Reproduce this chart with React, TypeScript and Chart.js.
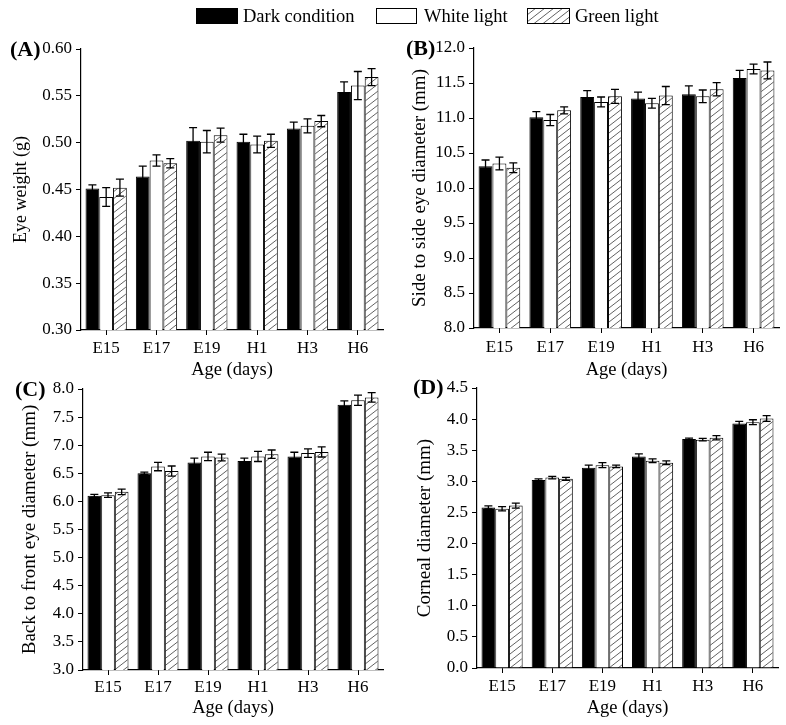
import React, { useEffect, useRef } from "react";
import { Chart, registerables } from "chart.js";

Chart.register(...registerables);

const FONT = '"Liberation Serif", "Times New Roman", Times, serif';

// ---------- data ----------
const ageLabels = ["E15", "E17", "E19", "H1", "H3", "H6"];
const seriesNames = ["Dark condition", "White light", "Green light"];

// (A) Eye weight (g)
const eyeWeightDark = [0.451, 0.464, 0.502, 0.501, 0.515, 0.554];
const eyeWeightWhite = [0.442, 0.481, 0.501, 0.498, 0.518, 0.561];
const eyeWeightGreen = [0.452, 0.478, 0.508, 0.502, 0.523, 0.570];
const eyeWeightDarkErr = [0.004, 0.011, 0.014, 0.008, 0.007, 0.011];
const eyeWeightWhiteErr = [0.010, 0.006, 0.012, 0.009, 0.0075, 0.015];
const eyeWeightGreenErr = [0.009, 0.005, 0.0075, 0.007, 0.006, 0.009];

// (B) Side to side eye diameter (mm)
const sideDark = [10.31, 11.01, 11.30, 11.28, 11.34, 11.57];
const sideWhite = [10.35, 10.97, 11.23, 11.21, 11.31, 11.70];
const sideGreen = [10.29, 11.11, 11.31, 11.32, 11.41, 11.68];
const sideDarkErr = [0.09, 0.08, 0.09, 0.09, 0.12, 0.11];
const sideWhiteErr = [0.09, 0.08, 0.07, 0.07, 0.09, 0.07];
const sideGreenErr = [0.07, 0.05, 0.10, 0.13, 0.095, 0.12];

// (C) Back to front eye diameter (mm)
const backDark = [6.10, 6.50, 6.69, 6.72, 6.80, 7.72];
const backWhite = [6.11, 6.62, 6.80, 6.80, 6.86, 7.80];
const backGreen = [6.17, 6.54, 6.78, 6.84, 6.88, 7.85];
const backDarkErr = [0.025, 0.02, 0.08, 0.05, 0.075, 0.07];
const backWhiteErr = [0.04, 0.075, 0.075, 0.09, 0.075, 0.09];
const backGreenErr = [0.05, 0.09, 0.06, 0.075, 0.09, 0.085];

// (D) Corneal diameter (mm)
const cornealDark = [2.58, 3.02, 3.22, 3.40, 3.68, 3.93];
const cornealWhite = [2.56, 3.06, 3.26, 3.33, 3.67, 3.95];
const cornealGreen = [2.61, 3.04, 3.24, 3.30, 3.70, 4.01];
const cornealDarkErr = [0.025, 0.02, 0.04, 0.04, 0.015, 0.035];
const cornealWhiteErr = [0.035, 0.02, 0.04, 0.03, 0.02, 0.04];
const cornealGreenErr = [0.04, 0.025, 0.02, 0.03, 0.035, 0.045];

// axis settings
const axisA = { min: 0.3, max: 0.6, step: 0.05, decimals: 2, title: "Eye weight (g)" };
const axisB = { min: 8.0, max: 12.0, step: 0.5, decimals: 1, title: "Side to side eye diameter (mm)" };
const axisC = { min: 3.0, max: 8.0, step: 0.5, decimals: 1, title: "Back to front eye diameter (mm)" };
const axisD = { min: 0.0, max: 4.5, step: 0.5, decimals: 1, title: "Corneal diameter (mm)" };
const xTitle = "Age (days)";

// ---------- helpers ----------
function makeHatchTile(): HTMLCanvasElement {
  const W = 9, H = 7;
  const c = document.createElement("canvas");
  c.width = W;
  c.height = H;
  const g = c.getContext("2d")!;
  g.fillStyle = "#fff";
  g.fillRect(0, 0, W, H);
  g.strokeStyle = "#3a3a3a";
  g.lineWidth = 0.8;
  for (let k = -1; k <= 1; k++) {
    g.beginPath();
    g.moveTo(-W, 2 * H + k * H);
    g.lineTo(2 * W, -H + k * H);
    g.stroke();
  }
  return c;
}

function errorBarPlugin(errs: number[][]) {
  return {
    id: "errbars",
    afterDatasetsDraw(chart: any) {
      const ctx = chart.ctx;
      const ys = chart.scales.y;
      ctx.save();
      ctx.strokeStyle = "#000";
      ctx.lineWidth = 1.3;
      chart.data.datasets.forEach((ds: any, i: number) => {
        const meta = chart.getDatasetMeta(i);
        meta.data.forEach((bar: any, j: number) => {
          const v = ds.data[j] as number;
          const e = errs[i][j];
          const x = bar.x;
          const yt = ys.getPixelForValue(v + e);
          const yb = ys.getPixelForValue(v - e);
          ctx.beginPath();
          ctx.moveTo(x, yt);
          ctx.lineTo(x, yb);
          ctx.moveTo(x - 4, yt);
          ctx.lineTo(x + 4, yt);
          ctx.moveTo(x - 4, yb);
          ctx.lineTo(x + 4, yb);
          ctx.stroke();
        });
      });
      ctx.restore();
    },
  };
}

type PanelProps = {
  series: number[][];
  errors: number[][];
  axis: { min: number; max: number; step: number; decimals: number; title: string };
  left: number;
  top: number;
  width: number;
  height: number;
  pad: { top: number; left: number; right: number; bottom: number };
  yWidth: number;
  xHeight: number;
  yTitlePad: number;
  yTitleSize: number;
  xTickPad: number;
};

function Panel(p: PanelProps) {
  const ref = useRef<HTMLCanvasElement | null>(null);
  useEffect(() => {
    const canvas = ref.current!;
    const ctx = canvas.getContext("2d")!;
    const hatch = ctx.createPattern(makeHatchTile(), "repeat")!;
    const fills = ["#000", "#fff", hatch];
    const chart = new Chart(canvas, {
      type: "bar",
      data: {
        labels: ageLabels,
        datasets: p.series.map((d, i) => ({
          label: seriesNames[i],
          data: d,
          backgroundColor: fills[i] as any,
          borderColor: "#000",
          borderWidth: 1,
          barPercentage: 1.0,
          categoryPercentage: 0.82,
        })),
      },
      options: {
        responsive: false,
        animation: false,
        devicePixelRatio: 1,
        layout: { padding: p.pad },
        plugins: { legend: { display: false }, tooltip: { enabled: false } },
        scales: {
          x: {
            offset: true,
            grid: {
              display: true,
              offset: false,
              drawOnChartArea: false,
              drawTicks: true,
              tickLength: 5,
              tickWidth: 1,
              tickColor: "#000",
            },
            border: { display: true, color: "#000", width: 1.2 },
            ticks: {
              color: "#000",
              padding: p.xTickPad,
              maxRotation: 0,
              font: { family: FONT, size: 17 },
            },
            title: {
              display: true,
              text: xTitle,
              color: "#000",
              padding: { top: 0, bottom: 0 },
              font: { family: FONT, size: 18.5 },
            },
            afterFit: (s: any) => {
              s.height = p.xHeight;
            },
          },
          y: {
            min: p.axis.min,
            max: p.axis.max,
            grid: {
              display: true,
              drawOnChartArea: false,
              drawTicks: true,
              tickLength: 5,
              tickWidth: 1,
              tickColor: "#000",
            },
            border: { display: true, color: "#000", width: 1.2 },
            ticks: {
              stepSize: p.axis.step,
              color: "#000",
              padding: 4,
              font: { family: FONT, size: 17 },
              callback: (v: any) => Number(v).toFixed(p.axis.decimals),
            },
            title: {
              display: true,
              text: p.axis.title,
              color: "#000",
              padding: { top: p.yTitlePad, bottom: 0 },
              font: { family: FONT, size: p.yTitleSize },
            },
            afterFit: (s: any) => {
              s.width = p.yWidth;
            },
          },
        },
      },
      plugins: [errorBarPlugin(p.errors)],
    });
    return () => chart.destroy();
  }, []);
  return (
    <canvas
      ref={ref}
      width={p.width}
      height={p.height}
      style={{ position: "absolute", left: p.left, top: p.top, width: p.width, height: p.height }}
    />
  );
}

function HatchBox(props: { left: number; top: number; width: number; height: number }) {
  const ref = useRef<HTMLCanvasElement | null>(null);
  useEffect(() => {
    const c = ref.current!;
    const g = c.getContext("2d")!;
    g.fillStyle = g.createPattern(makeHatchTile(), "repeat")!;
    g.fillRect(0, 0, c.width, c.height);
    g.strokeStyle = "#000";
    g.lineWidth = 1;
    g.strokeRect(0.5, 0.5, c.width - 1, c.height - 1);
  }, []);
  return (
    <canvas
      ref={ref}
      width={props.width}
      height={props.height}
      style={{ position: "absolute", left: props.left, top: props.top }}
    />
  );
}

const textStyle = (left: number, top: number, size: number, bold = false): React.CSSProperties => ({
  position: "absolute",
  left,
  top,
  fontFamily: FONT,
  fontSize: size,
  fontWeight: bold ? "bold" : "normal",
  lineHeight: "24px",
  whiteSpace: "nowrap",
  color: "#000",
});

export default function App() {
  useEffect(() => {
    document.body.style.margin = "0";
  }, []);
  return (
    <div style={{ position: "relative", width: 786, height: 725, background: "#fff", overflow: "hidden" }}>
      <Panel
        series={[eyeWeightDark, eyeWeightWhite, eyeWeightGreen]}
        errors={[eyeWeightDarkErr, eyeWeightWhiteErr, eyeWeightGreenErr]}
        axis={axisA}
        left={0}
        top={0}
        width={393}
        height={381}
        pad={{ top: 49, left: 0, right: 10, bottom: 0 }}
        yWidth={81}
        xHeight={51}
        yTitlePad={10}
        yTitleSize={18}
        xTickPad={3}
      />
      <Panel
        series={[sideDark, sideWhite, sideGreen]}
        errors={[sideDarkErr, sideWhiteErr, sideGreenErr]}
        axis={axisB}
        left={393}
        top={0}
        width={393}
        height={381}
        pad={{ top: 48, left: 0, right: 7, bottom: 0 }}
        yWidth={81}
        xHeight={53}
        yTitlePad={16}
        yTitleSize={19}
        xTickPad={4}
      />
      <Panel
        series={[backDark, backWhite, backGreen]}
        errors={[backDarkErr, backWhiteErr, backGreenErr]}
        axis={axisC}
        left={0}
        top={360}
        width={393}
        height={365}
        pad={{ top: 29, left: 0, right: 10, bottom: 6 }}
        yWidth={83}
        xHeight={49}
        yTitlePad={19}
        yTitleSize={19}
        xTickPad={2}
      />
      <Panel
        series={[cornealDark, cornealWhite, cornealGreen]}
        errors={[cornealDarkErr, cornealWhiteErr, cornealGreenErr]}
        axis={axisD}
        left={393}
        top={360}
        width={393}
        height={365}
        pad={{ top: 28, left: 0, right: 8, bottom: 6 }}
        yWidth={84}
        xHeight={51}
        yTitlePad={21}
        yTitleSize={19}
        xTickPad={3}
      />

      {/* legend */}
      <div style={{ position: "absolute", left: 196, top: 8, width: 42, height: 16, background: "#000" }} />
      <div style={textStyle(243, 4, 18.5)}>{seriesNames[0]}</div>
      <div
        style={{
          position: "absolute",
          left: 376,
          top: 8,
          width: 41,
          height: 16,
          background: "#fff",
          border: "1px solid #000",
          boxSizing: "border-box",
        }}
      />
      <div style={textStyle(424, 4, 18.5)}>{seriesNames[1]}</div>
      <HatchBox left={527} top={8} width={43} height={16} />
      <div style={textStyle(575, 4, 18.5)}>{seriesNames[2]}</div>

      {/* panel labels */}
      <div style={textStyle(10, 37, 22, true)}>(A)</div>
      <div style={textStyle(406, 36, 22, true)}>(B)</div>
      <div style={textStyle(15, 377, 22, true)}>(C)</div>
      <div style={textStyle(413, 375, 22, true)}>(D)</div>
    </div>
  );
}
